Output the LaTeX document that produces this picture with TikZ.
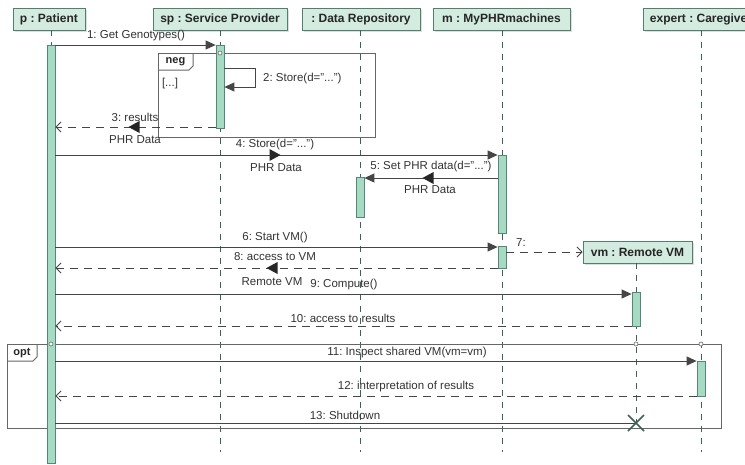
\documentclass[tikz,border=0pt]{standalone}
\usepackage{fontspec}
\setmainfont{Liberation Sans}
\usetikzlibrary{arrows.meta,shadows,calc}
\definecolor{hdrfill}{HTML}{D3ECDF}
\definecolor{hdrdraw}{HTML}{52806F}
\definecolor{actfill}{HTML}{A6DAC3}
\definecolor{actdraw}{HTML}{56857A}
\definecolor{lifec}{HTML}{3F6157}
\definecolor{msgc}{HTML}{454545}
\frenchspacing
\begin{document}
\frenchspacing
\begin{tikzpicture}[x=1pt,y=-1pt,
  hdr/.style={draw=hdrdraw, fill=hdrfill, line width=0.9pt, font=\fontsize{12}{14}\selectfont\bfseries\frenchspacing, text=black!85, inner sep=0pt, minimum height=22pt, drop shadow={shadow xshift=1.5pt, shadow yshift=-1.5pt, fill=black!25}},
  act/.style={draw=actdraw, fill=actfill, line width=0.8pt, minimum width=8pt, inner sep=0pt},
  life/.style={draw=lifec, dash pattern=on 6pt off 6pt, line width=1pt},
  msg/.style={draw=msgc, line width=0.9pt, -{Triangle[length=10pt,width=9pt]}},
  ret/.style={draw=msgc, line width=0.9pt, dash pattern=on 8pt off 6pt, -{Straight Barb[length=5pt,width=10pt]}},
  lbl/.style={font=\fontsize{11.5}{13}\selectfont\frenchspacing, text=black!80, inner sep=0pt},
  fbox/.style={draw=black!60, line width=1pt},
  ftag/.style={font=\fontsize{11}{13}\selectfont\bfseries, text=black!85, inner sep=0pt},
  flowr/.pic={\fill[black!85] (-5.5,-6) -- (5.5,0) -- (-5.5,6) -- cycle;},
  flowl/.pic={\fill[black!85] (5.5,-6) -- (-5.5,0) -- (5.5,6) -- cycle;}
]
\useasboundingbox (0,0) rectangle (745,464);
\fill[white] (0,0) rectangle (745,464);

% headers
\node[hdr, minimum width=72pt] (hp) at (49,19) {p : Patient};
\node[hdr, minimum width=134pt] (hsp) at (220,19) {sp : Service Provider};
\node[hdr, minimum width=118pt] (hdr) at (361,19) {: Data Repository};
\node[hdr, minimum width=137pt] (hm) at (501.5,19) {m : MyPHRmachines};
\node[hdr, minimum width=116pt] (hex) at (701,19) {expert : Caregiver};

% lifeline ends
\coordinate (ep) at (51,452);
\coordinate (esp) at (220,452);
\coordinate (edr) at (360,452);
\coordinate (em) at (502,452);
\coordinate (eex) at (701,452);
\coordinate (xvm) at (636,423);

% lifelines
\draw[life] (hp.south -| ep) -- (ep);
\draw[life] (hsp.south -| esp) -- (esp);
\draw[life] (hdr.south -| edr) -- (edr);
\draw[life] (hm.south -| em) -- (em);
\draw[life] (hex.south -| eex) -- (eex);

% remote vm header (created)
\node[hdr, minimum width=109pt] (hvm) at (637.5,252) {vm : Remote VM};
\draw[life] (hvm.south -| xvm) -- (xvm);

% frames
\draw[fbox] (158,53) rectangle (375,137);
\draw[fbox] (158,70) -- (189,70) -- (193,66) -- (193,53);
\node[ftag] (tneg) at (175.5,61.5) {neg};
\node[lbl] (dots) at (170,84) {[...]};

\draw[fbox] (7,344) rectangle (721,428);
\draw[fbox] (7,361) -- (33,361) -- (37,357) -- (37,344);
\node[ftag] (topt) at (22,353) {opt};

% activations
\node[act, minimum height=418pt] (ap) at (51,254) {};
\node[act, minimum height=83pt] (asp) at (220,86.5) {};
\node[act, minimum height=40pt] (adr) at (360,197) {};
\node[act, minimum height=78pt] (am1) at (502,194) {};
\node[act, minimum height=22pt] (am2) at (502,257) {};
\node[act, minimum height=34pt] (avm) at (636,309) {};
\node[act, minimum height=35pt] (aex) at (701,378.5) {};

% crossing circles
\foreach \cx/\cy in {220/53, 51/344, 636/344, 701/344}
  \draw[draw=black!60, fill=white, line width=0.6pt] (\cx,\cy) circle (2pt);

% message y coordinates
\coordinate (y1) at (0,45);
\coordinate (y3) at (0,127);
\coordinate (y4) at (0,155);
\coordinate (y5) at (0,178);
\coordinate (y6) at (0,247);
\coordinate (y7) at (0,252);
\coordinate (y8) at (0,268);
\coordinate (y9) at (0,294);
\coordinate (y10) at (0,326);
\coordinate (y11) at (0,361);
\coordinate (y12) at (0,396);
\coordinate (y13) at (0,423);

% 1
\draw[msg] (ap.east |- y1) -- (asp.west |- y1);
\node[lbl] (l1) at (136,36) {1: Get Genotypes()};
% 2 self
\draw[msg] (asp.east |- 0,68) -- (255,68) -- (255,87) -- (asp.east |- 0,87);
\node[lbl, anchor=west] (l2) at (263,79) {2: Store(d="...")};
% 3
\draw[ret] (asp.west |- y3) -- (ap.east |- y3);
\pic at (134,127) {flowl};
\node[lbl] (l3) at (135,117) {3: results};
\node[lbl] (l3b) at (135,140) {PHR Data};
% 4
\draw[msg] (ap.east |- y4) -- (am1.west |- y4);
\pic at (275,155) {flowr};
\node[lbl] (l4) at (275,145) {4: Store(d="...")};
\node[lbl] (l4b) at (276,168) {PHR Data};
% 5
\draw[msg] (am1.west |- y5) -- (adr.east |- y5);
\pic at (428,178) {flowl};
\node[lbl] (l5) at (431,167) {5: Set PHR data(d="...")};
\node[lbl] (l5b) at (430,190) {PHR Data};
% 6
\draw[msg] (ap.east |- y6) -- (am2.west |- y6);
\node[lbl] (l6) at (275,238) {6: Start VM()};
% 7
\draw[ret] (am2.east |- y7) -- (hvm.west);
\node[lbl] (l7) at (521,243) {7:};
% 8
\draw[ret] (am2.west |- y8) -- (ap.east |- y8);
\pic at (272,268) {flowl};
\node[lbl] (l8) at (275,257) {8: access to VM};
\node[lbl] (l8b) at (272,282) {Remote VM};
% 9
\draw[msg] (ap.east |- y9) -- (avm.west |- y9);
\node[lbl] (l9) at (344,285) {9: Compute()};
% 10
\draw[ret] (avm.west |- y10) -- (ap.east |- y10);
\node[lbl] (l10) at (343,318) {10: access to results};
% 11
\draw[msg] (ap.east |- y11) -- (aex.west |- y11);
\node[lbl] (l11) at (407,353) {11: Inspect shared VM(vm=vm)};
% 12
\draw[ret] (aex.west |- y12) -- (ap.east |- y12);
\node[lbl] (l12) at (406,387) {12: interpretation of results};
% 13
\draw[draw=msgc, line width=0.9pt] (ap.east |- y13) -- (xvm);
\node[lbl] (l13) at (345,415) {13: Shutdown};
\draw[draw=lifec, line width=1.6pt] ($(xvm)+(-8,-8)$) -- ($(xvm)+(8,8)$);
\draw[draw=lifec, line width=1.6pt] ($(xvm)+(-8,8)$) -- ($(xvm)+(8,-8)$);
\end{tikzpicture}
\end{document}
